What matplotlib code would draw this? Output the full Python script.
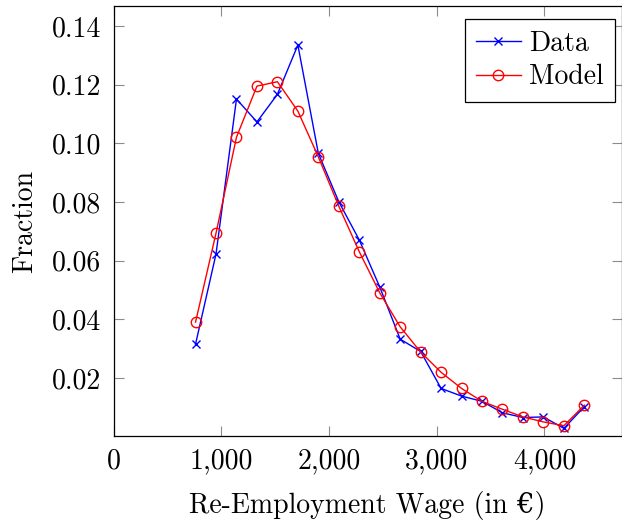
import matplotlib
matplotlib.use("Agg")
import matplotlib.pyplot as plt
from matplotlib.ticker import FuncFormatter

# wage bins (euro) and fractions
wage = [760, 950, 1140, 1330, 1520, 1710, 1900, 2090, 2280, 2470,
        2660, 2850, 3040, 3230, 3420, 3610, 3800, 3990, 4180, 4370]
data_frac = [0.0316, 0.0623, 0.1151, 0.1073, 0.1167, 0.1335, 0.0966, 0.0801, 0.0671, 0.0511,
             0.0333, 0.0291, 0.0165, 0.0139, 0.0121, 0.0082, 0.0066, 0.0068, 0.0029, 0.0103]
model_frac = [0.0391, 0.0694, 0.1021, 0.1195, 0.1210, 0.1110, 0.0954, 0.0786, 0.0631, 0.0491,
              0.0375, 0.0289, 0.0220, 0.0165, 0.0121, 0.0094, 0.0068, 0.0051, 0.0038, 0.0108]
x_ticks = [0, 1000, 2000, 3000, 4000]
y_ticks = [0.02, 0.04, 0.06, 0.08, 0.10, 0.12, 0.14]

plt.rcParams['font.family'] = ['cmr10', 'DejaVu Serif']
plt.rcParams['axes.formatter.use_mathtext'] = True
plt.rcParams['font.size'] = 20

fig = plt.figure(figsize=(6.22, 5.25), dpi=100)
ax = fig.add_axes([113.7 / 622, 1 - 436 / 525, (621.5 - 113.7) / 622, (436 - 6) / 525])

ax.plot(wage, data_frac, color='blue', marker='x', markersize=6, markeredgewidth=1.0,
        linewidth=1.0, label='Data')
ax.plot(wage, model_frac, color='red', marker='o', markersize=7.5, markerfacecolor='none',
        markeredgewidth=1.0, linewidth=1.0, label='Model')

ax.set_xlim(0, 4715)
ax.set_ylim(0.0003, 0.1468)
ax.set_xticks(x_ticks)
ax.set_yticks(y_ticks)
ax.xaxis.set_major_formatter(FuncFormatter(lambda v, p: f"{v:,.0f}"))
ax.yaxis.set_major_formatter(FuncFormatter(lambda v, p: f"{v:.2f}"))
ax.tick_params(direction='in', length=7.5, width=0.8, color='#8c8c8c',
               top=True, right=True, labelsize=20, pad=9)
for s in ax.spines.values():
    s.set_linewidth(0.9)

ax.set_xlabel('Re-Employment Wage (in €)', labelpad=12)
ax.set_ylabel('Fraction', labelpad=10)

# legend box corner placed where the reference has it (615 px, 19 px)
leg = ax.legend(loc='upper right', bbox_to_anchor=(615.3 / 622, 1 - 19 / 525),
                bbox_transform=fig.transFigure, fancybox=False, framealpha=1,
                edgecolor='black', handlelength=1.6, borderpad=0.42, labelspacing=0.25,
                handletextpad=0.3, borderaxespad=0, fontsize=20)
leg.get_frame().set_linewidth(0.9)

fig.savefig('out.png', dpi=100)
